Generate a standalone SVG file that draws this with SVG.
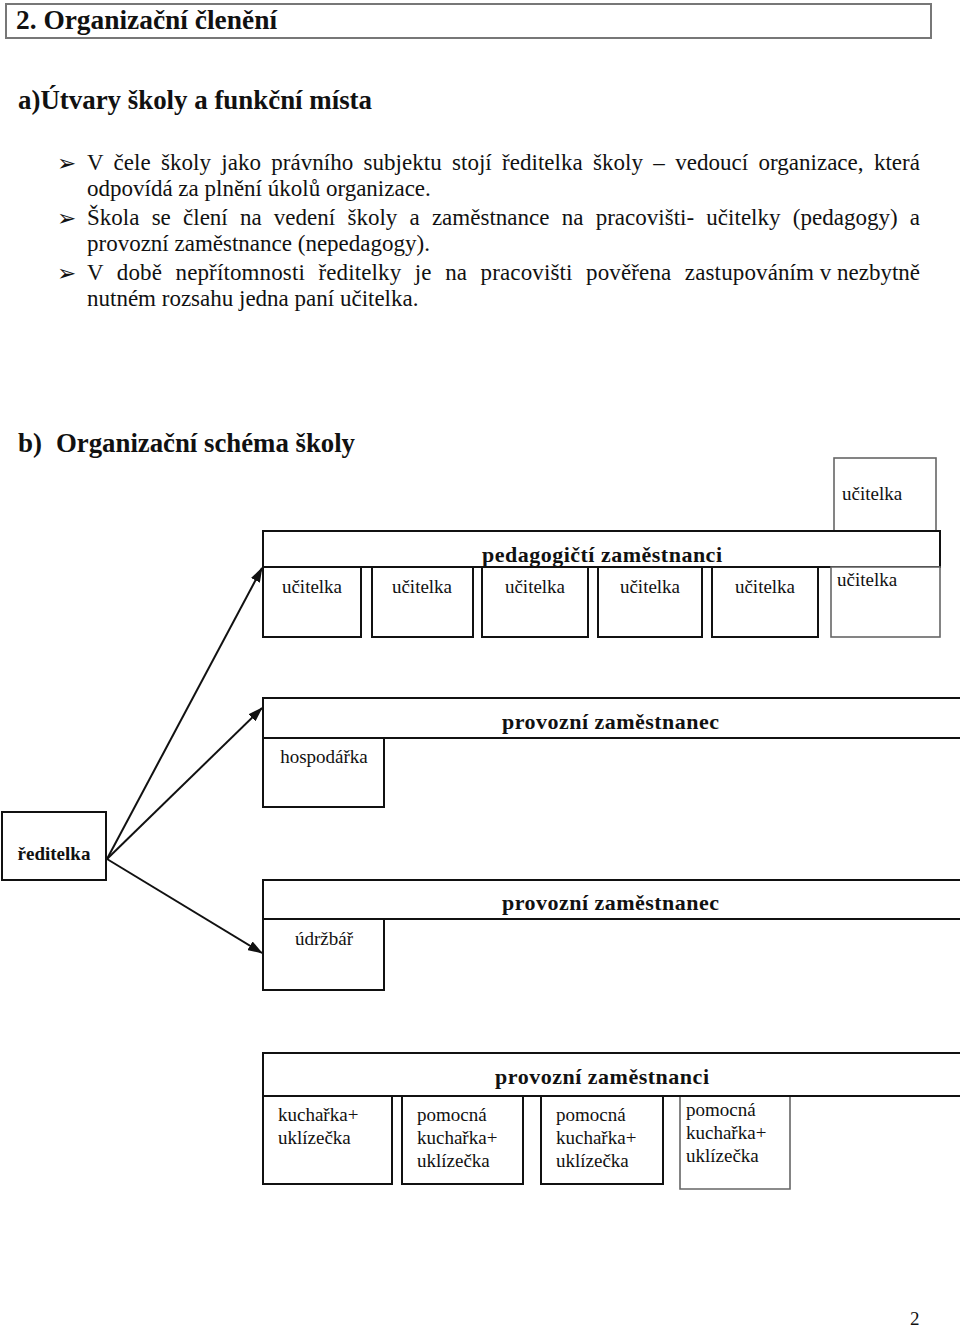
<svg xmlns="http://www.w3.org/2000/svg" width="960" height="1327" viewBox="0 0 960 1327">
<style>
text{font-family:"Liberation Serif","Times New Roman",serif;fill:#111}
.h{font-weight:bold;font-size:27px}
.p{font-size:23px}
.n{font-size:19px}
.nb{font-size:19px;font-weight:bold}
.hb{font-size:22px;font-weight:bold}
.bul{font-family:"DejaVu Sans",sans-serif;font-size:23px}
.box{fill:#fff;stroke:#111;stroke-width:2}
.gbox{fill:#fff;stroke:#666;stroke-width:1.6}
.c{text-anchor:middle}
.conn{stroke:#111;stroke-width:2;fill:none;marker-end:url(#ah)}
</style>
<defs>
<marker id="ah" viewBox="0 0 15 10" refX="14" refY="5" markerWidth="7.5" markerHeight="5" markerUnits="strokeWidth" orient="auto">
<path d="M0,0 L15,5 L0,10 z" fill="#111"/>
</marker>
</defs>
<rect width="960" height="1327" fill="#fff"/>

<g id="title">
<rect x="6" y="4" width="925" height="34" fill="none" stroke="#777" stroke-width="2"/>
<text class="h" x="16" y="29" textLength="261" lengthAdjust="spacingAndGlyphs">2. Organizační členění</text>
</g>

<g id="section-a">
<text class="h" x="18" y="109" textLength="354" lengthAdjust="spacingAndGlyphs">a)Útvary školy a funkční místa</text>
<text class="bul" x="57" y="171">➢</text>
<text class="p" x="87" y="170" word-spacing="4.6" textLength="833" lengthAdjust="spacing">V čele školy jako právního subjektu stojí ředitelka školy – vedoucí organizace, která</text>
<text class="p" x="87" y="196">odpovídá za plnění úkolů organizace.</text>
<text class="bul" x="57" y="226">➢</text>
<text class="p" x="87" y="225" word-spacing="6.4" textLength="833" lengthAdjust="spacing">Škola se člení na vedení školy a zaměstnance na pracovišti- učitelky (pedagogy) a</text>
<text class="p" x="87" y="251">provozní zaměstnance (nepedagogy).</text>
<text class="bul" x="57" y="281">➢</text>
<text class="p" x="87" y="280" word-spacing="7.6" textLength="727" lengthAdjust="spacing">V době nepřítomnosti ředitelky je na pracovišti pověřena zastupováním</text>
<text class="p" x="920" y="280" text-anchor="end">v nezbytně</text>
<text class="p" x="87" y="306">nutném rozsahu jedna paní učitelka.</text>
</g>

<g id="section-b-title">
<text class="h" x="18" y="452">b)</text>
<text class="h" x="56" y="452" textLength="299" lengthAdjust="spacingAndGlyphs">Organizační schéma školy</text>
</g>

<g id="connectors">
<line class="conn" x1="107" y1="859" x2="262" y2="568"/>
<line class="conn" x1="107" y1="859" x2="262" y2="708"/>
<line class="conn" x1="107" y1="859" x2="262" y2="953"/>
</g>

<g id="ucitelka-top">
<rect class="gbox" x="834" y="458" width="102" height="73"/>
<text class="n" x="842" y="500">učitelka</text>
</g>

<g id="pedagogicti">
<rect class="box" x="263" y="531" width="677" height="36"/>
<text class="hb c" x="602" y="562" textLength="240" lengthAdjust="spacing">pedagogičtí zaměstnanci</text>
</g>

<g id="ucitelka-1"><rect class="box" x="263" y="567" width="98" height="70"/><text class="n c" x="312" y="593">učitelka</text></g>
<g id="ucitelka-2"><rect class="box" x="372" y="567" width="101" height="70"/><text class="n c" x="422" y="593">učitelka</text></g>
<g id="ucitelka-3"><rect class="box" x="482" y="567" width="106" height="70"/><text class="n c" x="535" y="593">učitelka</text></g>
<g id="ucitelka-4"><rect class="box" x="598" y="567" width="104" height="70"/><text class="n c" x="650" y="593">učitelka</text></g>
<g id="ucitelka-5"><rect class="box" x="712" y="567" width="106" height="70"/><text class="n c" x="765" y="593">učitelka</text></g>
<g id="ucitelka-6"><rect class="gbox" x="831" y="567" width="109" height="70"/><text class="n" x="837" y="586">učitelka</text></g>

<g id="reditelka">
<rect class="box" x="2" y="812" width="104" height="68"/>
<text class="nb c" x="54" y="860">ředitelka</text>
</g>

<g id="provozni-1">
<rect class="box" x="263" y="698" width="710" height="40"/>
<text class="hb" x="502" y="729" textLength="217" lengthAdjust="spacing">provozní zaměstnanec</text>
</g>
<g id="hospodarka">
<rect class="box" x="263" y="738" width="121" height="69"/>
<text class="n c" x="324" y="763">hospodářka</text>
</g>

<g id="provozni-2">
<rect class="box" x="263" y="880" width="710" height="39"/>
<text class="hb" x="502" y="910" textLength="217" lengthAdjust="spacing">provozní zaměstnanec</text>
</g>
<g id="udrzbar">
<rect class="box" x="263" y="919" width="121" height="71"/>
<text class="n c" x="324" y="945">údržbář</text>
</g>

<g id="provozni-3">
<rect class="box" x="263" y="1053" width="710" height="43"/>
<text class="hb" x="495" y="1084" textLength="214" lengthAdjust="spacing">provozní zaměstnanci</text>
</g>
<g id="kucharka-1">
<rect class="box" x="263" y="1096" width="129" height="88"/>
<text class="n" x="278" y="1121">kuchařka+</text>
<text class="n" x="278" y="1144">uklízečka</text>
</g>
<g id="kucharka-2">
<rect class="box" x="402" y="1096" width="121" height="88"/>
<text class="n" x="417" y="1121">pomocná</text>
<text class="n" x="417" y="1144">kuchařka+</text>
<text class="n" x="417" y="1167">uklízečka</text>
</g>
<g id="kucharka-3">
<rect class="box" x="541" y="1096" width="122" height="88"/>
<text class="n" x="556" y="1121">pomocná</text>
<text class="n" x="556" y="1144">kuchařka+</text>
<text class="n" x="556" y="1167">uklízečka</text>
</g>
<g id="kucharka-4">
<path d="M680,1097 V1189 H790 V1097" fill="#fff" stroke="#666" stroke-width="1.6"/>
<text class="n" x="686" y="1116">pomocná</text>
<text class="n" x="686" y="1139">kuchařka+</text>
<text class="n" x="686" y="1162">uklízečka</text>
</g>

<g id="page-number">
<text class="n" x="910" y="1325">2</text>
</g>
</svg>
